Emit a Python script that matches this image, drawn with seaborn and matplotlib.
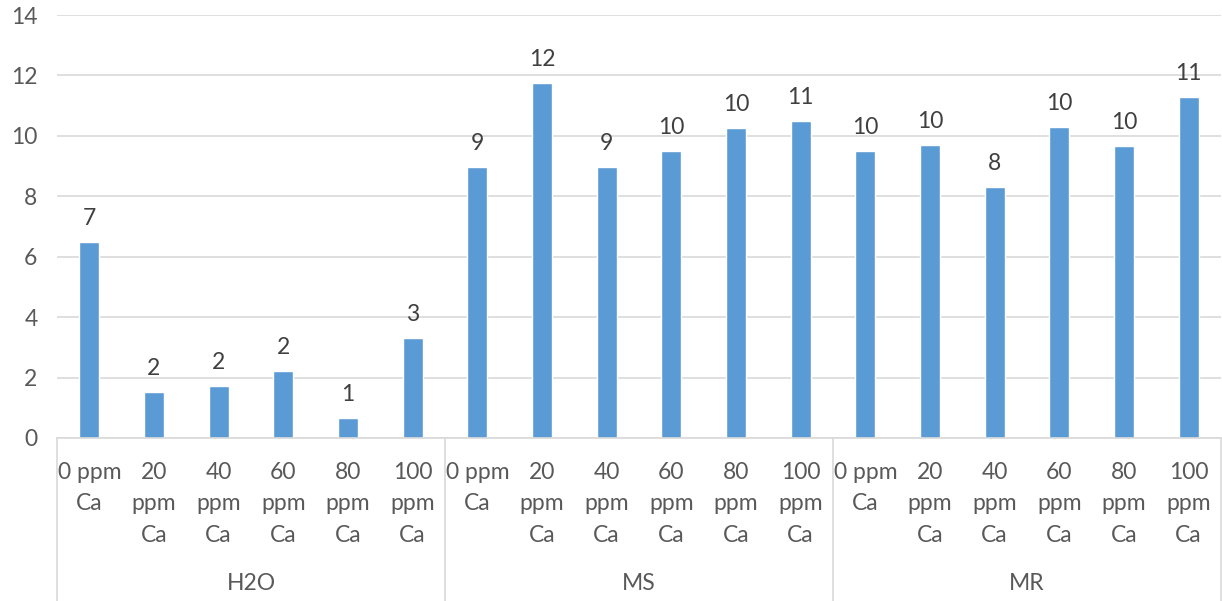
import numpy as np
import pandas as pd
import seaborn as sns
import matplotlib
matplotlib.use("Agg")
import matplotlib.pyplot as plt

# ---- data ----
groups = ["H2O", "MS", "MR"]
doses = ["0 ppm\nCa", "20\nppm\nCa", "40\nppm\nCa", "60\nppm\nCa", "80\nppm\nCa", "100\nppm\nCa"]
h2o_values = [6.5, 1.51, 1.72, 2.22, 0.65, 3.32]
ms_values = [8.98, 11.76, 8.98, 9.5, 10.26, 10.5]
mr_values = [9.5, 9.7, 8.3, 10.3, 9.67, 11.3]
y_ticks = [0, 2, 4, 6, 8, 10, 12, 14]

sns.set_theme(style="white")
plt.rcParams["font.family"] = ["Lato", "DejaVu Sans"]

rows = []
for g, vals in zip(groups, [h2o_values, ms_values, mr_values]):
    for d, v in zip(doses, vals):
        rows.append({"key": f"{g}|{d}", "group": g, "dose": d, "value": v})
df = pd.DataFrame(rows)
order = list(df["key"])

W, H = 1222, 601
fig = plt.figure(figsize=(W / 100, H / 100), dpi=100)
left, right, top, bottom = 57, 1221, 15, 438
ax = fig.add_axes([left / W, 1 - bottom / H, (right - left) / W, (bottom - top) / H])

text_color = "#595959"
grid_color = "#D9D9D9"
bar_color = "#5B9BD5"
fs = 16.5

sns.barplot(data=df, x="key", y="value", order=order, color=bar_color,
            saturation=1, width=0.31, ax=ax, errorbar=None)

ax.set_xlim(-0.5, len(order) - 0.5)
ax.set_ylim(0, 14)
ax.set_yticks(y_ticks)
ax.set_yticklabels([str(t) for t in y_ticks], color=text_color, fontsize=fs)
ax.yaxis.grid(True, color=grid_color, linewidth=1.2)
ax.set_axisbelow(True)
ax.tick_params(axis="y", length=0, pad=14)
ax.tick_params(axis="x", length=0, pad=17)
ax.set_xticks(range(len(order)))
ax.set_xticklabels(list(df["dose"]), color=text_color, fontsize=fs, linespacing=1.62, va="top")
ax.set_xlabel("")
ax.set_ylabel("")
for s in ["left", "right", "top"]:
    ax.spines[s].set_visible(False)
ax.spines["bottom"].set_color(grid_color)
ax.spines["bottom"].set_linewidth(1.2)

# data labels
for i, v in enumerate(df["value"]):
    lab = str(int(np.floor(v + 0.5)))
    ax.annotate(lab, xy=(i, v), xytext=(0, 13), textcoords="offset pixels",
                ha="center", va="bottom", color="#404040", fontsize=fs)

# category box lines
xt = ax.get_xaxis_transform()
ybot = -(H - bottom) / (bottom - top)
n = len(doses)
for k in range(len(groups) + 1):
    xpos = k * n - 0.5
    ax.plot([xpos, xpos], [0, ybot], transform=xt, color=grid_color,
            linewidth=1.2, clip_on=False)

# group labels
for k, g in enumerate(groups):
    xc = k * n + (n - 1) / 2
    ax.annotate(g, xy=(xc, 0), xycoords=xt, xytext=(0, -(583 - bottom)),
                textcoords="offset pixels", ha="center", va="center",
                color=text_color, fontsize=fs)

fig.savefig("out.png", dpi=100)
